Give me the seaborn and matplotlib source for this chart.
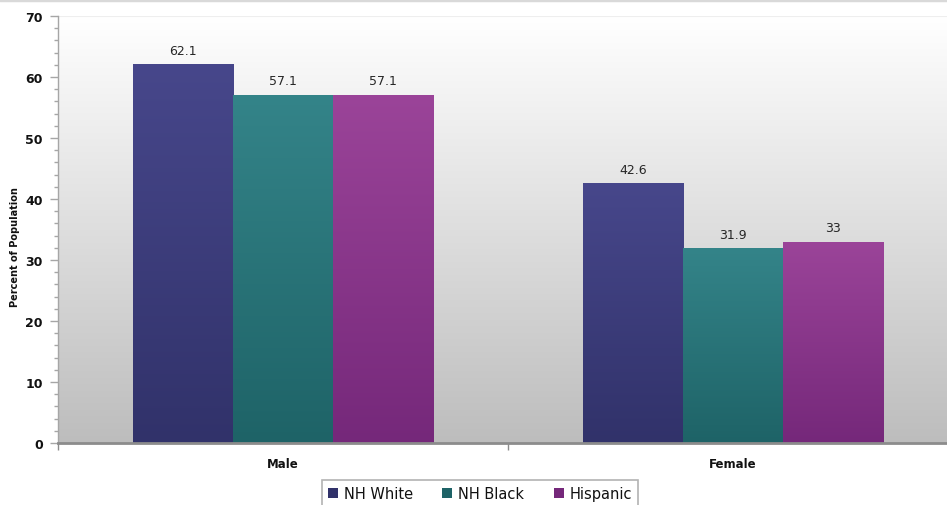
import numpy as np
import pandas as pd
import matplotlib
matplotlib.use("Agg")
import matplotlib.pyplot as plt
from matplotlib.patches import Patch
from matplotlib.colors import LinearSegmentedColormap
from matplotlib.ticker import MultipleLocator
import seaborn as sns

# Chart data
sexes = ["Male", "Female"]
groups = ["NH White", "NH Black", "Hispanic"]
nh_white = [62.1, 42.6]
nh_black = [57.1, 31.9]
hispanic = [57.1, 33]
value_labels = [["62.1", "42.6"], ["57.1", "31.9"], ["57.1", "33"]]

# Gradient colours per group: (top, bottom)
grad = {
    "NH White": ("#47478b", "#31326a"),
    "NH Black": ("#348489", "#1e6367"),
    "Hispanic": ("#9b4499", "#75287a"),
}

rows = []
for g, vals in zip(groups, [nh_white, nh_black, hispanic]):
    for s, v in zip(sexes, vals):
        rows.append({"sex": s, "group": g, "value": v})
df = pd.DataFrame(rows)

sns.set_theme(style="white")
plt.rcParams["font.family"] = ["DejaVu Sans"]

fig = plt.figure(figsize=(9.47, 5.06), dpi=100)
W, H = 947, 506
left, right_px, top_px, bot_px = 58, 958, 17, 444
ax = fig.add_axes([left / W, 1 - bot_px / H, (right_px - left) / W, (bot_px - top_px) / H])

# Plot-area background: white at top fading to grey at the bottom
bg = LinearSegmentedColormap.from_list("bg", ["#bdbdbd", "#ffffff"])
ax.imshow(np.linspace(0, 1, 256).reshape(-1, 1), aspect="auto", cmap=bg,
          extent=(-0.5, 1.5, 0, 70), origin="lower", zorder=0)

sns.barplot(data=df, x="sex", y="value", hue="group", order=sexes,
            hue_order=groups, width=0.667, palette=[grad[g][0] for g in groups],
            ax=ax, legend=False, errorbar=None, saturation=1, zorder=2)

# Vertical gradient fill for each bar, plus value label above it
for gi, g in enumerate(groups):
    cont = ax.containers[gi]
    cmap = LinearSegmentedColormap.from_list(g, [grad[g][1], grad[g][0]])
    for si, bar in enumerate(cont):
        x0 = bar.get_x()
        w = bar.get_width()
        h = bar.get_height()
        bar.set_edgecolor("none")
        im = ax.imshow(np.linspace(0, 1, 256).reshape(-1, 1), aspect="auto",
                       cmap=cmap, extent=(x0, x0 + w, 0, h), origin="lower",
                       zorder=3)
        im.set_clip_path(bar)
        ax.text(x0 + w / 2, h + 1.2, value_labels[gi][si], ha="center",
                va="bottom", fontsize=9, color="#262626", zorder=4)

ax.set_xlim(-0.5, 1.5)
ax.set_ylim(0, 70)

# Axes styling
for sp in ["top", "right"]:
    ax.spines[sp].set_visible(False)
ax.spines["left"].set_color("#a6a6a6")
ax.spines["left"].set_linewidth(1.0)
ax.spines["bottom"].set_color("#8c8c8c")
ax.spines["bottom"].set_linewidth(2.0)
ax.spines["bottom"].set_zorder(5)

ax.yaxis.set_major_locator(MultipleLocator(10))
ax.yaxis.set_minor_locator(MultipleLocator(2))
ax.tick_params(axis="y", which="major", left=True, length=6, width=1,
               color="#a6a6a6", labelsize=9, pad=5, labelcolor="#111111")
ax.tick_params(axis="y", which="minor", left=True, length=3, width=1,
               color="#a6a6a6")
for t in ax.get_yticklabels():
    t.set_fontweight("bold")

ax.set_xticks([0, 1])
ax.set_xticklabels(sexes, fontsize=8.5, fontweight="bold", color="#111111")
ax.set_xticks([-0.5, 0.5, 1.5], minor=True)
ax.tick_params(axis="x", which="major", bottom=False, pad=4)
ax.tick_params(axis="x", which="minor", bottom=True, length=5, width=1,
               color="#8c8c8c")
ax.set_xlabel("")
ax.set_ylabel("")
ax.grid(False)
fig.text(15 / W, 1 - 247 / H, "Percent of Population", rotation=90,
         ha="center", va="center", fontsize=7, fontweight="bold",
         color="#111111")

# Thin grey line across the top of the chart
fig.add_artist(plt.Line2D([0, 1], [1 - 1 / H, 1 - 1 / H], color="#d9d9d9",
                          linewidth=2.5, transform=fig.transFigure))
# Faint line along the top of the plot area
ax.axhline(70, color="#eeeeee", linewidth=0.8, zorder=1)

handles = [Patch(facecolor=grad[g][1], edgecolor="none") for g in groups]
leg = fig.legend(handles, groups, loc="upper center", ncol=3,
                 bbox_to_anchor=(480 / W, 1 - 481 / H), frameon=True,
                 fancybox=False, fontsize=10.5, handlelength=0.7,
                 handleheight=0.7, handletextpad=0.4, columnspacing=2.0,
                 borderpad=0.4, borderaxespad=0)
leg.get_frame().set_edgecolor("#a0a0a0")
leg.get_frame().set_linewidth(1.2)
for t in leg.get_texts():
    t.set_color("#111111")

fig.savefig("out.png", dpi=100)
